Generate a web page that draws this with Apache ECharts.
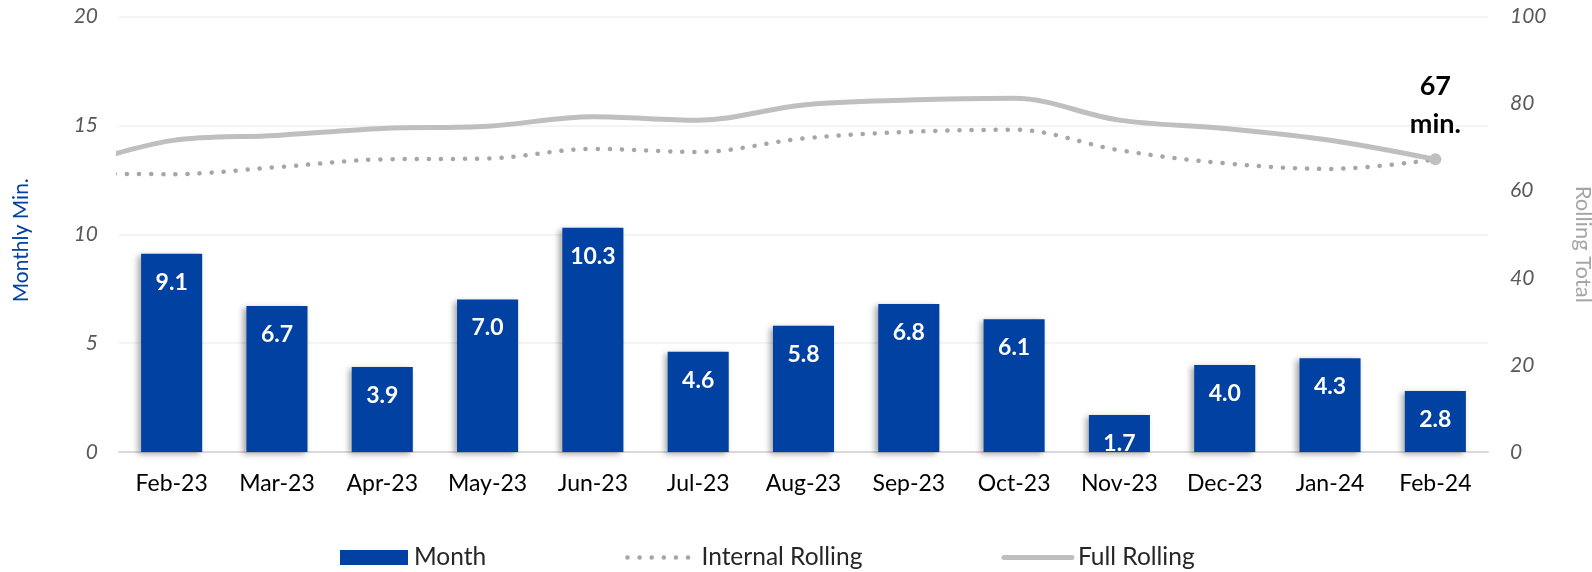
<!DOCTYPE html>
<html>
<head>
<meta charset="utf-8">
<script src="https://cdn.jsdelivr.net/npm/echarts@6/dist/echarts.min.js"></script>
<style>
html,body{margin:0;padding:0;background:#fff;}
#chart{width:1592px;height:572px;}
</style>
</head>
<body>
<div id="chart"></div>
<script>
// Categories (bars)
const months = ['Feb-23','Mar-23','Apr-23','May-23','Jun-23','Jul-23','Aug-23','Sep-23','Oct-23','Nov-23','Dec-23','Jan-24','Feb-24'];
// Monthly minutes
const monthValues = [9.1, 6.7, 3.9, 7.0, 10.3, 4.6, 5.8, 6.8, 6.1, 1.7, 4.0, 4.3, 2.8];
// Rolling totals: first value is Jan-23 (lies just left of the plot and is clipped), then Feb-23 .. Feb-24
const internalRolling = [64.0, 63.8, 65.4, 67.2, 67.4, 69.6, 68.9, 72.0, 73.5, 74.0, 69.3, 66.3, 65.0, 67.2];
const fullRolling = [65.0, 71.5, 72.7, 74.3, 74.8, 77.0, 76.2, 79.7, 80.8, 81.2, 76.2, 74.3, 71.6, 67.2];
const leftTicks = {min: 0, max: 20, interval: 5};
const rightTicks = {min: 0, max: 100, interval: 20};

const FONT = 'Lato';
const chart = echarts.init(document.getElementById('chart'), null, {renderer: 'canvas'});

const toXY = arr => arr.map((v, i) => [i - 1, v]);
const fullData = toXY(fullRolling).map((p, i, a) => {
  if (i === a.length - 1) {
    return {
      value: p,
      symbol: 'circle',
      symbolSize: 12,
      itemStyle: {color: '#bfbfbf'},
      label: {
        show: true,
        position: 'top',
        distance: 10,
        formatter: d => Math.round(d.value[1]) + '\nmin.',
        fontFamily: FONT,
        fontWeight: 'bold',
        fontSize: 27,
        lineHeight: 38,
        color: '#000'
      }
    };
  }
  return {value: p};
});

chart.setOption({
  animation: false,
  grid: {left: 119, right: 104, top: 16.5, bottom: 120, containLabel: false, outerBoundsMode: 'none'},
  legend: {
    left: 335,
    top: 540,
    itemWidth: 68,
    itemHeight: 15,
    itemGap: 139,
    textStyle: {fontFamily: FONT, fontSize: 24.5, color: '#262626', padding: [0, 0, 0, 1]},
    data: [
      {name: 'Month', icon: 'rect'},
      {name: 'Internal Rolling', itemStyle: {opacity: 0}, lineStyle: {width: 4.5, color: '#a6a6a6', type: [0.1, 12], cap: 'round', opacity: 1}},
      {name: 'Full Rolling', itemStyle: {opacity: 0}, lineStyle: {width: 5, color: '#bfbfbf', opacity: 1}}
    ]
  },
  xAxis: [
    {
      type: 'category',
      data: months,
      boundaryGap: true,
      axisLine: {lineStyle: {color: '#d9d9d9', width: 2}},
      axisTick: {show: false},
      axisLabel: {fontFamily: FONT, fontSize: 23, color: '#000', margin: 20}
    },
    {
      type: 'value',
      min: -0.5,
      max: months.length - 0.5,
      show: false
    }
  ],
  yAxis: [
    {
      type: 'value',
      min: leftTicks.min, max: leftTicks.max, interval: leftTicks.interval,
      name: 'Monthly Min.',
      nameLocation: 'middle',
      nameGap: 87,
      nameTextStyle: {fontFamily: FONT, fontSize: 21, color: '#0041a1', padding: [0, 12, 0, 0]},
      axisLine: {show: false},
      axisTick: {show: false},
      axisLabel: {fontFamily: FONT, fontSize: 21, fontStyle: 'italic', color: '#595959', margin: 21},
      splitLine: {lineStyle: {color: '#f0f0f0', width: 1.5}}
    },
    {
      type: 'value',
      min: rightTicks.min, max: rightTicks.max, interval: rightTicks.interval,
      name: 'Rolling Total',
      nameLocation: 'middle',
      nameRotate: -90,
      nameGap: 84,
      nameTextStyle: {fontFamily: FONT, fontSize: 22, color: '#a6a6a6', padding: [0, 0, 0, 20]},
      axisLine: {show: false},
      axisTick: {show: false},
      axisLabel: {fontFamily: FONT, fontSize: 21, fontStyle: 'italic', color: '#595959', margin: 22},
      splitLine: {show: false}
    }
  ],
  series: [
    {
      name: 'Month',
      type: 'bar',
      xAxisIndex: 0,
      yAxisIndex: 0,
      data: monthValues,
      barWidth: '58%',
      itemStyle: {
        color: '#0041a1',
        shadowBlur: 6,
        shadowOffsetX: -3,
        shadowOffsetY: 2,
        shadowColor: 'rgba(0,0,0,0.35)'
      },
      label: {
        show: true,
        position: 'insideTop',
        distance: 17,
        formatter: p => p.value.toFixed(1),
        fontFamily: FONT,
        fontWeight: 'bold',
        fontSize: 23,
        color: '#fff'
      }
    },
    {
      name: 'Internal Rolling',
      type: 'line',
      xAxisIndex: 1,
      yAxisIndex: 1,
      data: toXY(internalRolling),
      smooth: 0.35,
      symbol: 'none',
      clip: true,
      lineStyle: {color: '#a6a6a6', width: 4.5, type: [0.1, 12], cap: 'round'},
      itemStyle: {color: '#a6a6a6'},
      z: 3
    },
    {
      name: 'Full Rolling',
      type: 'line',
      xAxisIndex: 1,
      yAxisIndex: 1,
      data: fullData,
      smooth: 0.35,
      symbol: 'none',
      clip: true,
      lineStyle: {color: '#bfbfbf', width: 5, cap: 'round'},
      itemStyle: {color: '#bfbfbf'},
      z: 4
    }
  ]
});
</script>
</body>
</html>
